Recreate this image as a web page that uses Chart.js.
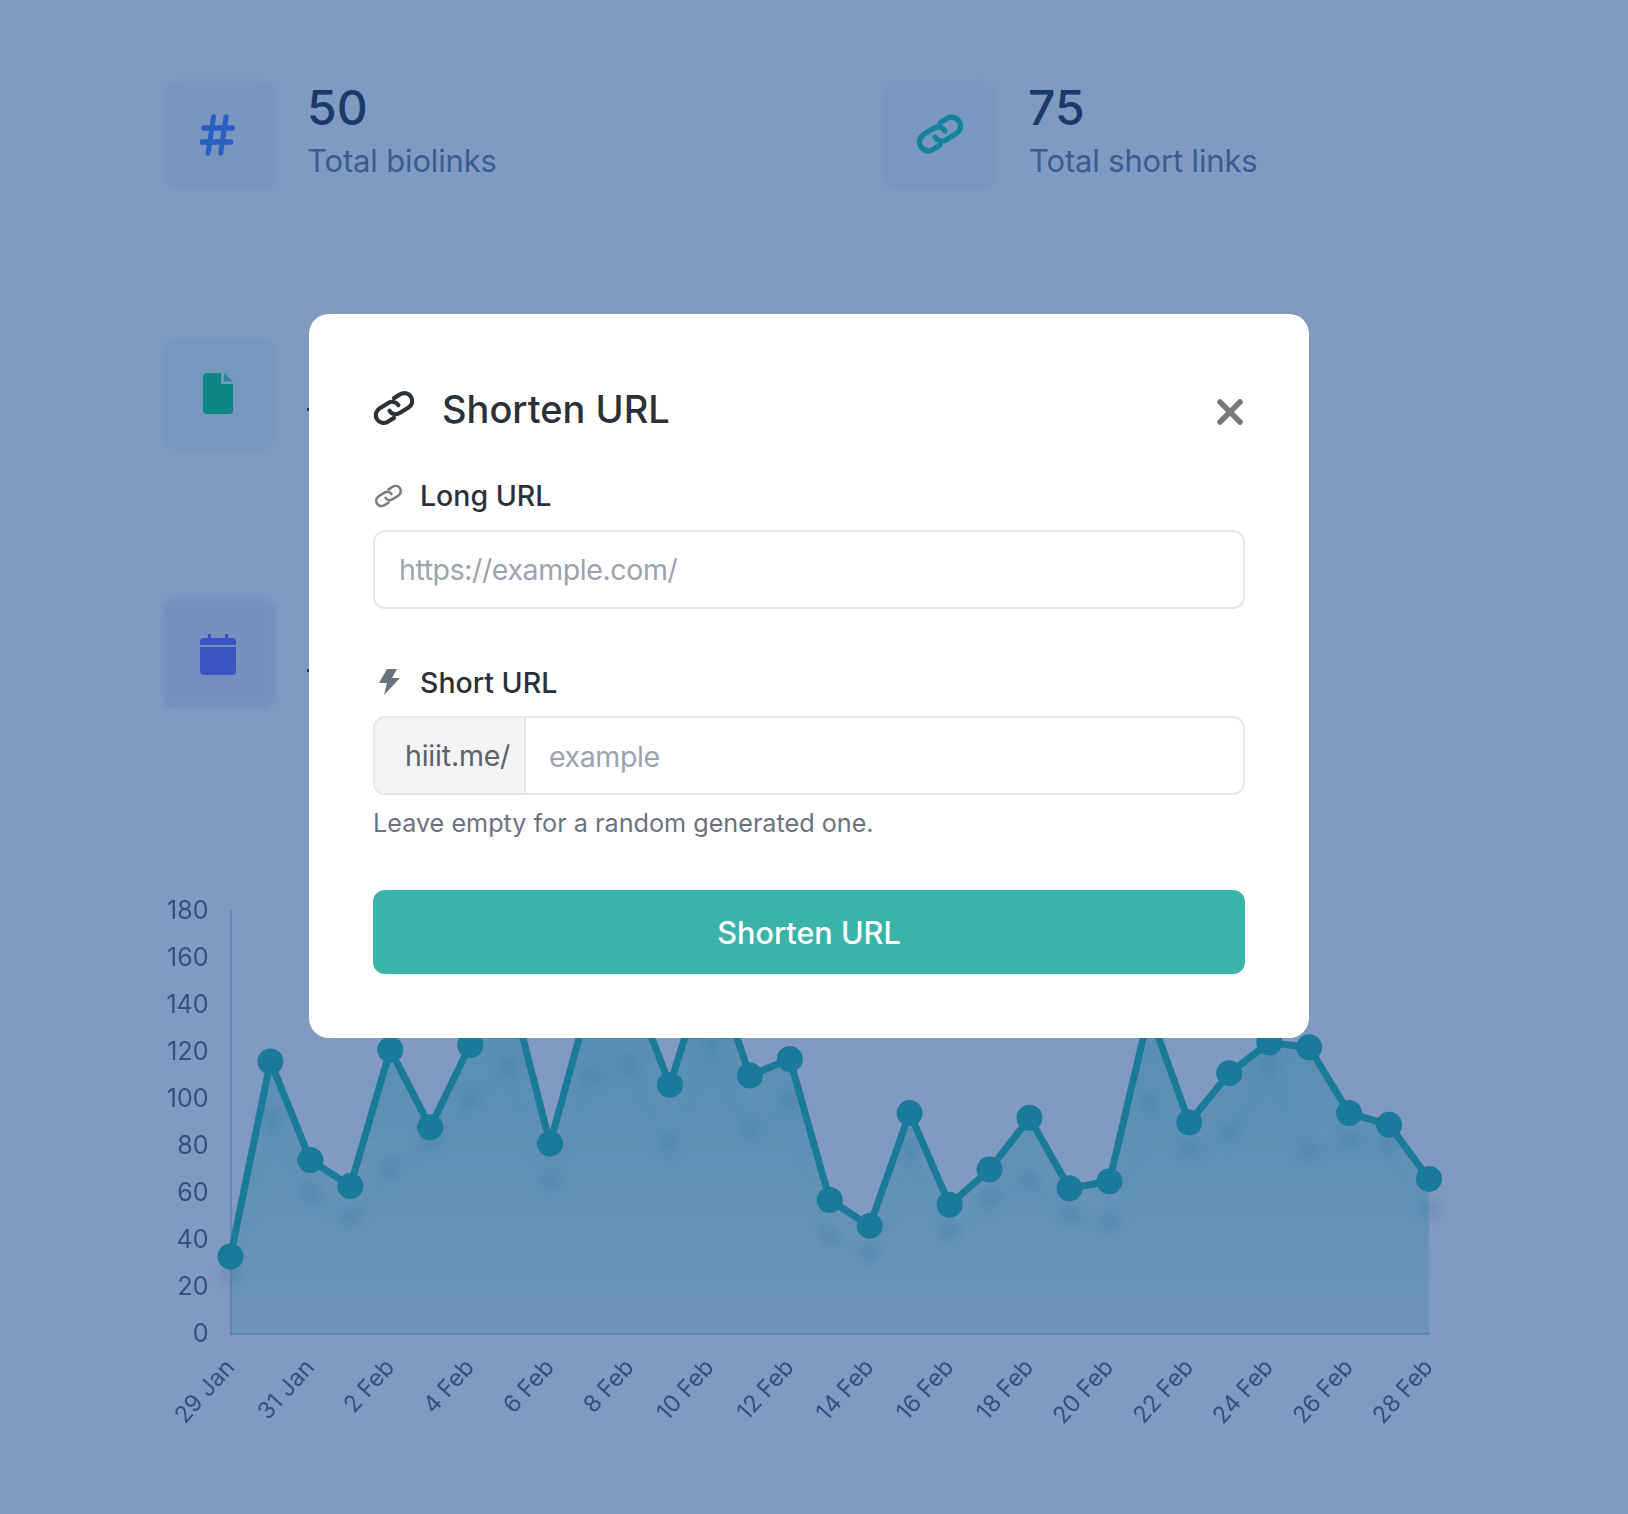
<!DOCTYPE html>
<html>
<head>
<meta charset="utf-8">
<title>Shorten URL</title>
<script src="https://cdn.jsdelivr.net/npm/chart.js@4"></script>
<style>
  html, body { margin: 0; padding: 0; }
  body { width: 1628px; height: 1514px; position: relative; overflow: hidden; background: #809ac0; font-family: Inter, "Noto Sans", sans-serif; }
  .abs { position: absolute; white-space: nowrap; }
  #chartWrap { position: absolute; left: 0; top: 874px; width: 1628px; height: 640px; }
  .card { position: absolute; border-radius: 12px; filter: blur(2px); }
  .num { position: absolute; font-size: 48px; line-height: 60px; font-weight: 500; color: #1b3a6a; }
  .lbl { position: absolute; font-size: 31px; line-height: 40px; letter-spacing: -0.15px; color: #3c5c8f; white-space: nowrap; }
  #modal { position: absolute; left: 309px; top: 314px; width: 1000px; height: 724px; background: #fff; border-radius: 20px; }
  .label { position: absolute; font-size: 28.5px; line-height: 36px; font-weight: 500; color: #2b3138; white-space: nowrap; }
  .box { position: absolute; box-sizing: border-box; border: 2px solid #e5e7eb; border-radius: 12px; background: #fff; }
  .ph { position: absolute; font-size: 28.5px; line-height: 40px; letter-spacing: -0.4px; color: #9ca3af; white-space: nowrap; }
</style>
</head>
<body>

<svg width="0" height="0" style="position:absolute">
  <symbol id="chain" viewBox="0 0 44 34">
    <g transform="rotate(-32 22 17)" fill="none" stroke="currentColor" stroke-linecap="round">
      <path d="M27 17 a7 7 0 0 0 -7 -7 H10 a7.5 7.5 0 0 0 0 15 H17"/>
      <path d="M17 17 a7 7 0 0 0 7 7 H34 a7.5 7.5 0 0 0 0 -15 H27"/>
    </g>
  </symbol>
</svg>

<div id="chartWrap"><canvas id="myChart" width="1628" height="640"></canvas></div>

<!-- stat cards behind the dialog -->
<div class="card" style="left:166px;top:81px;width:109px;height:108px;background:rgba(110,140,185,.35)"></div>
<svg class="abs" style="left:200px;top:114px" width="36" height="42" viewBox="0 0 40 42" preserveAspectRatio="none" fill="none" stroke="#2560c2" stroke-width="5.5" stroke-linecap="round">
  <path d="M15 3 L9 39 M29 3 L23 39 M4 14 H36 M2 28 H34"/>
</svg>
<div class="num" style="left:307px;top:78px">50</div>
<div class="lbl" style="left:307px;top:141px">Total biolinks</div>

<div class="card" style="left:883px;top:81px;width:111px;height:108px;background:rgba(112,145,185,.35)"></div>
<svg class="abs" style="left:914px;top:114px;color:#13839f;stroke-width:4.5" width="52" height="40"><use href="#chain"/></svg>
<div class="num" style="left:1028px;top:78px">75</div>
<div class="lbl" style="left:1029px;top:141px">Total short links</div>

<div class="card" style="left:163px;top:340px;width:110px;height:109px;background:rgba(100,150,180,.35)"></div>
<svg class="abs" style="left:202px;top:372px" width="32" height="43" viewBox="0 0 32 43">
  <path d="M5 1 H19 V12 H31 V38 a4 4 0 0 1 -4 4 H5 a4 4 0 0 1 -4 -4 V5 a4 4 0 0 1 4 -4 Z" fill="#0f8585"/>
  <path d="M22 1 L31 9.5 H22 Z" fill="#0f8585" opacity=".75"/>
</svg>

<div class="card" style="left:163px;top:598px;width:112px;height:110px;background:rgba(95,120,185,.3)"></div>
<svg class="abs" style="left:200px;top:633px" width="36" height="42" viewBox="0 0 36 42">
  <path d="M8 1 h3 v6 h-3 Z M25 1 h3 v6 h-3 Z" fill="#3a55c2"/>
  <path d="M4 5 H32 a4 4 0 0 1 4 4 V12 H0 V9 a4 4 0 0 1 4 -4 Z" fill="#3a55c2"/>
  <path d="M0 14 H36 V38 a4 4 0 0 1 -4 4 H4 a4 4 0 0 1 -4 -4 Z" fill="#3a55c2"/>
</svg>
<div class="abs" style="left:307px;top:408px;width:2px;height:3px;background:#1c3a6e"></div>
<div class="abs" style="left:307px;top:669px;width:2px;height:3px;background:#1c3a6e"></div>

<!-- dialog -->
<div id="modal">
  <svg class="abs" style="left:62px;top:76px;color:#2b3138;stroke-width:4" width="46" height="36"><use href="#chain"/></svg>
  <div class="abs" style="left:133px;top:72px;font-size:38px;line-height:46px;font-weight:500;color:#2b3138">Shorten URL</div>
  <svg class="abs" style="left:908px;top:85px" width="26" height="26" viewBox="0 0 26 26" stroke="#77797c" stroke-width="5.5" stroke-linecap="round">
    <path d="M3 3 L23 23 M23 3 L3 23"/>
  </svg>

  <svg class="abs" style="left:64px;top:170px;color:#767c85;stroke-width:3.6" width="31" height="24"><use href="#chain"/></svg>
  <div class="label" style="left:111px;top:164px">Long URL</div>
  <div class="box" style="left:64px;top:216px;width:872px;height:79px"></div>
  <div class="ph" style="left:90px;top:236px">https://example.com/</div>

  <svg class="abs" style="left:68px;top:354px" width="24" height="28" viewBox="0 0 24 28">
    <path d="M10 1 H20 L15 10 H23 L7 27 L10 15 H2 Z" fill="#6b7280"/>
  </svg>
  <div class="label" style="left:111px;top:351px">Short URL</div>
  <div class="box" style="left:64px;top:402px;width:872px;height:79px"></div>
  <div class="abs" style="left:66px;top:404px;width:149px;height:75px;background:#f3f4f6;border-right:2px solid #e5e7eb;border-radius:10px 0 0 10px"></div>
  <div class="ph" style="left:96px;top:422px;color:#5b626b;letter-spacing:-0.2px">hiiit.me/</div>
  <div class="ph" style="left:240px;top:423px">example</div>
  <div class="abs" style="left:64px;top:491px;font-size:25.2px;line-height:36px;color:#6b7280">Leave empty for a random generated one.</div>

  <div class="abs" style="left:64px;top:576px;width:872px;height:84px;background:#3ab3a9;border-radius:12px;color:#fff;font-size:30.6px;font-weight:500;line-height:86px;text-align:center">Shorten URL</div>
</div>

<script>
const categories = [
  "29 Jan", "30 Jan", "31 Jan", "1 Feb", "2 Feb", "3 Feb", "4 Feb", "5 Feb", "6 Feb", "7 Feb", "8 Feb",
  "9 Feb", "10 Feb", "11 Feb", "12 Feb", "13 Feb", "14 Feb", "15 Feb", "16 Feb", "17 Feb", "18 Feb",
  "19 Feb", "20 Feb", "21 Feb", "22 Feb", "23 Feb", "24 Feb", "25 Feb", "26 Feb", "27 Feb", "28 Feb",
];
// front series, the part under the dialog is estimated from the slopes
const frontValues = [33, 116, 74, 63, 121, 88, 123, 147, 81, 143, 150, 106, 160, 110, 117, 57, 46, 94, 55, 70, 92, 62, 65, 137, 90, 111, 124, 122, 94, 89, 66];
// faint series seen through the fill
const backValues = [25, 92, 60, 50, 71, 82, 100, 115, 65, 110, 115, 81, 125, 87, 100, 42, 34, 79, 44, 58, 66, 51, 48, 99, 79, 86, 116, 78, 83, 81, 53];
const yMax = 180;
const yStep = 20;

const lineColor = "#197a99";
const tickColor = "#36507f";
const axisColor = "rgba(85, 115, 165, 0.5)";

function fillGradient(context, topAlpha, bottomAlpha) {
  const area = context.chart.chartArea;
  if (!area) return "rgba(26,125,156,0.3)";
  const g = context.chart.ctx.createLinearGradient(0, area.top, 0, area.bottom);
  g.addColorStop(0, "rgba(26,125,156," + topAlpha + ")");
  g.addColorStop(1, "rgba(26,125,156," + bottomAlpha + ")");
  return g;
}

// the back series looks out of focus in the original
const blurBack = {
  id: "blurBack",
  beforeDatasetDraw: function (chart, args) {
    if (args.index === 1) {
      chart.ctx.save();
      chart.ctx.filter = "blur(6px)";
    }
  },
  afterDatasetDraw: function (chart, args) {
    if (args.index === 1) {
      chart.ctx.restore();
    }
  },
};

const ctx = document.getElementById("myChart").getContext("2d");

new Chart(ctx, {
  type: "line",
  data: {
    labels: categories,
    datasets: [
      {
        label: "Front",
        data: frontValues,
        borderColor: lineColor,
        backgroundColor: (c) => fillGradient(c, 0.48, 0.16),
        pointBackgroundColor: lineColor,
        pointBorderColor: lineColor,
        borderWidth: 7,
        pointRadius: 9.5,
        tension: 0,
        fill: "origin",
        order: 1,
      },
      {
        label: "Back",
        data: backValues,
        borderColor: "rgba(26,125,156,0.08)",
        backgroundColor: "rgba(26,125,156,0.03)",
        pointBackgroundColor: "rgba(60,110,150,0.22)",
        pointBorderColor: "rgba(60,110,150,0)",
        borderWidth: 7,
        pointRadius: 10,
        tension: 0,
        fill: "origin",
        order: 2,
      },
    ],
  },
  options: {
    responsive: false,
    animation: false,
    clip: false,
    layout: { padding: { top: 24.4, right: 199, left: 0, bottom: 0 } },
    plugins: { legend: { display: false }, tooltip: { enabled: false } },
    scales: {
      x: {
        offset: false,
        afterFit: function (scale) {
          scale.height = 180;
        },
        grid: { display: false, drawTicks: false },
        border: { color: axisColor, width: 2 },
        ticks: {
          autoSkip: false,
          maxRotation: 48,
          minRotation: 48,
          padding: 20,
          color: tickColor,
          font: { family: "Inter", size: 23.5 },
          callback: function (value, index) {
            return index % 2 === 0 ? this.getLabelForValue(value) : "";
          },
        },
      },
      y: {
        min: 0,
        max: yMax,
        afterFit: function (scale) {
          scale.width = 230.5;
        },
        grid: { display: false, drawTicks: false },
        border: { color: axisColor, width: 2 },
        ticks: {
          stepSize: yStep,
          padding: 22,
          color: tickColor,
          font: { family: "Inter", size: 25 },
        },
      },
    },
  },
  plugins: [blurBack],
});
</script>
</body>
</html>
